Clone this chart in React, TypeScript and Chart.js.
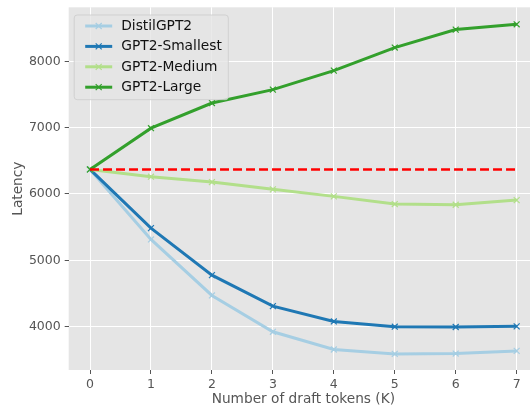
import React, { useEffect, useRef } from "react";
import { Chart, registerables } from "chart.js";

Chart.register(...registerables);

const draftTokens = [0, 1, 2, 3, 4, 5, 6, 7];
const distilGPT2 = [6370, 5315, 4471, 3923, 3656, 3590, 3595, 3635];
const gpt2Smallest = [6370, 5486, 4777, 4310, 4079, 4000, 3995, 4005];
const gpt2Medium = [6370, 6261, 6180, 6070, 5964, 5848, 5838, 5908];
const gpt2Large = [6370, 6992, 7371, 7573, 7860, 8207, 8478, 8558];
const baselineLatency = [6370, 6370, 6370, 6370, 6370, 6370, 6370, 6370];
const yTickValues = [4000, 5000, 6000, 7000, 8000];
const seriesNames = ["DistilGPT2", "GPT2-Smallest", "GPT2-Medium", "GPT2-Large"];
const seriesColors = ["#a6cee3", "#1f78b4", "#b2df8a", "#33a02c"];

const FONT = "'DejaVu Sans', sans-serif";

const toPoints = (vals: number[]) => draftTokens.map((x, i) => ({ x, y: vals[i] }));

const bgPlugin = {
  id: "plotBg",
  beforeDraw(chart: any) {
    const { ctx, chartArea } = chart;
    ctx.save();
    ctx.fillStyle = "#e5e5e5";
    ctx.fillRect(chartArea.left, chartArea.top, chartArea.right - chartArea.left, chartArea.bottom - chartArea.top);
    ctx.restore();
  },
};

const legendPlugin = {
  id: "mplLegend",
  afterDraw(chart: any) {
    const { ctx, chartArea } = chart;
    const items = chart.data.datasets.filter((d: any) => d.inLegend);
    items.sort((a: any, b: any) => a.legendIndex - b.legendIndex);
    ctx.save();
    ctx.font = `13.8px ${FONT}`;
    let maxW = 0;
    items.forEach((d: any) => {
      maxW = Math.max(maxW, ctx.measureText(d.label).width);
    });
    const left = chartArea.left + 5.5;
    const top = chartArea.top + 7.7;
    const w = 47 + maxW + 6.5;
    const rowH = 20.4;
    const h = 11 + rowH * (items.length - 1) + 12.5;
    const r = 3;
    ctx.beginPath();
    ctx.moveTo(left + r, top);
    ctx.lineTo(left + w - r, top);
    ctx.quadraticCurveTo(left + w, top, left + w, top + r);
    ctx.lineTo(left + w, top + h - r);
    ctx.quadraticCurveTo(left + w, top + h, left + w - r, top + h);
    ctx.lineTo(left + r, top + h);
    ctx.quadraticCurveTo(left, top + h, left, top + h - r);
    ctx.lineTo(left, top + r);
    ctx.quadraticCurveTo(left, top, left + r, top);
    ctx.closePath();
    ctx.fillStyle = "rgba(229,229,229,0.8)";
    ctx.fill();
    ctx.strokeStyle = "rgba(204,204,204,0.8)";
    ctx.lineWidth = 1;
    ctx.stroke();
    items.forEach((d: any, i: number) => {
      const cy = top + 11 + i * rowH;
      const x0 = left + 11;
      const x1 = left + 38;
      ctx.strokeStyle = d.borderColor;
      ctx.lineWidth = 3;
      ctx.beginPath();
      ctx.moveTo(x0, cy);
      ctx.lineTo(x1, cy);
      ctx.stroke();
      const mx = (x0 + x1) / 2;
      ctx.lineWidth = 1.2;
      ctx.beginPath();
      ctx.moveTo(mx - 3, cy - 3);
      ctx.lineTo(mx + 3, cy + 3);
      ctx.moveTo(mx - 3, cy + 3);
      ctx.lineTo(mx + 3, cy - 3);
      ctx.stroke();
      ctx.fillStyle = "#111";
      ctx.textAlign = "left";
      ctx.textBaseline = "middle";
      ctx.fillText(d.label, left + 47, cy + 0.5);
    });
    ctx.restore();
  },
};

export default function App() {
  const canvasRef = useRef<HTMLCanvasElement | null>(null);

  useEffect(() => {
    if (!canvasRef.current) return;
    const series = [distilGPT2, gpt2Smallest, gpt2Medium, gpt2Large];
    const datasets: any[] = series.map((vals, i) => ({
      label: seriesNames[i],
      data: toPoints(vals),
      borderColor: seriesColors[i],
      backgroundColor: seriesColors[i],
      borderWidth: 3,
      pointStyle: "crossRot",
      pointRadius: 4.2,
      pointBorderWidth: 1.2,
      pointBorderColor: seriesColors[i],
      tension: 0,
      order: 4 - i,
      inLegend: true,
      legendIndex: i,
    }));
    datasets.push({
      label: "baseline",
      data: toPoints(baselineLatency),
      borderColor: "#ff0000",
      borderWidth: 2.5,
      borderDash: [9, 4],
      pointRadius: 0,
      order: 0,
      inLegend: false,
    });

    const chart = new Chart(canvasRef.current, {
      type: "line",
      data: { datasets },
      plugins: [bgPlugin, legendPlugin],
      options: {
        responsive: false,
        animation: false,
        devicePixelRatio: 1,
        layout: { padding: { left: 0, top: 7.3, right: 7, bottom: 0 } },
        plugins: { legend: { display: false }, tooltip: { enabled: false } },
        scales: {
          x: {
            type: "linear",
            min: -0.35,
            max: 7.35,
            afterBuildTicks: (s: any) => {
              s.ticks = draftTokens.map((v) => ({ value: v }));
            },
            afterFit: (s: any) => {
              s.height = 40;
              s.paddingLeft = 0;
              s.paddingRight = 0;
            },
            border: { display: false },
            grid: { color: "#ffffff", lineWidth: 1, drawTicks: true, tickLength: 4, tickColor: "#555555", tickWidth: 1 },
            ticks: {
              color: "#555555",
              font: { family: FONT, size: 12.5 },
              padding: 3,
              maxRotation: 0,
              autoSkip: false,
              callback: (v: any) => String(v),
            },
            title: {
              display: true,
              text: "Number of draft tokens (K)",
              color: "#555555",
              font: { family: FONT, size: 13.7 },
              padding: { top: 0, bottom: 2 },
            },
          },
          y: {
            type: "linear",
            min: 3347,
            max: 8814,
            afterBuildTicks: (s: any) => {
              s.ticks = yTickValues.map((v) => ({ value: v }));
            },
            afterFit: (s: any) => {
              s.width = 68.7;
              s.paddingTop = 0;
              s.paddingBottom = 0;
            },
            border: { display: false },
            grid: { color: "#ffffff", lineWidth: 1, drawTicks: true, tickLength: 4, tickColor: "#555555", tickWidth: 1 },
            ticks: {
              color: "#555555",
              font: { family: FONT, size: 12.5 },
              padding: 4,
              autoSkip: false,
              callback: (v: any) => String(v),
            },
            title: {
              display: true,
              text: "Latency",
              color: "#555555",
              font: { family: FONT, size: 13.7 },
              padding: { top: 10, bottom: 0 },
            },
          },
        },
      } as any,
    });
    return () => chart.destroy();
  }, []);

  return (
    <div style={{ position: "fixed", left: 0, top: 0, width: 530, height: 410, overflow: "hidden", background: "#fff" }}>
      <canvas ref={canvasRef} width={545} height={410} style={{ display: "block" }} />
    </div>
  );
}
